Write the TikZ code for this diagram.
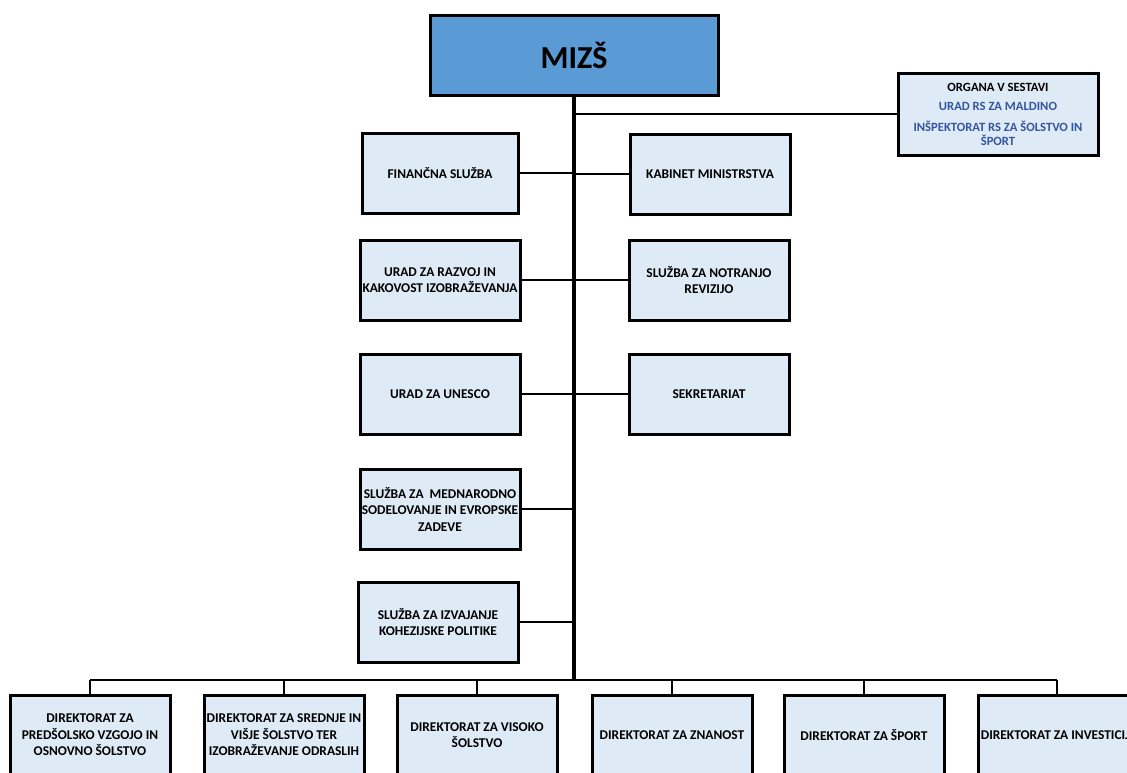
\documentclass[tikz,border=0pt]{standalone}
\usepackage{fontspec}
\setmainfont{Carlito}
\definecolor{boxfill}{RGB}{222,234,246}
\definecolor{topfill}{RGB}{91,155,213}
\definecolor{organblue}{RGB}{52,86,160}
\tikzset{
  unit/.style={draw, line width=3pt, fill=boxfill, align=center,
    minimum width=160pt, minimum height=80pt, inner sep=0.5pt,
    font=\fontsize{13.4}{16.5}\selectfont\bfseries},
  head/.style={unit, fill=topfill, minimum width=288pt,
    font=\fontsize{32}{36}\selectfont\bfseries},
  conn/.style={line width=2.5pt},
  trunk/.style={line width=3.4pt}
}
\begin{document}
\begin{tikzpicture}[x=1pt,y=-1pt]
      \useasboundingbox (0,0) rectangle (1127,772);
      \begin{scope}
        \clip (0,0) rectangle (1127,772);
        \node[head] (mizs) at (574,55) {MIZŠ};
        \node[unit, minimum width=200pt, minimum height=82pt,
          font=\fontsize{12.6}{14}\selectfont\bfseries] (organa) at (998,114)
          {ORGANA V SESTAVI\\[5pt]
           \color{organblue}URAD RS ZA MALDINO\\[7pt]
           \color{organblue}INŠPEKTORAT RS ZA ŠOLSTVO IN\\
           \color{organblue}ŠPORT};
        \node[unit, minimum width=156pt] (fin) at (440,173) {FINANČNA SLUŽBA};
        \node[unit] (kab) at (710,174) {KABINET MINISTRSTVA};
        \node[unit] (razvoj) at (440,280) {URAD ZA RAZVOJ IN\\KAKOVOST IZOBRAŽEVANJA};
        \node[unit] (revizija) at (709,280) {SLUŽBA ZA NOTRANJO\\REVIZIJO};
        \node[unit] (unesco) at (440,394) {URAD ZA UNESCO};
        \node[unit] (sekr) at (709,394) {SEKRETARIAT};
        \node[unit] (mednar) at (440,509) {SLUŽBA ZA \ MEDNARODNO\\SODELOVANJE IN EVROPSKE\\ZADEVE};
        \node[unit] (kohez) at (438,622) {SLUŽBA ZA IZVAJANJE\\KOHEZIJSKE POLITIKE};
        \node[unit] (d1) at (90,735) {DIREKTORAT ZA\\PREDŠOLSKO VZGOJO IN\\OSNOVNO ŠOLSTVO};
        \node[unit] (d2) at (284,735) {DIREKTORAT ZA SREDNJE IN\\VIŠJE ŠOLSTVO TER\\IZOBRAŽEVANJE ODRASLIH};
        \node[unit] (d3) at (477,735) {DIREKTORAT ZA VISOKO\\ŠOLSTVO};
        \node[unit] (d4) at (672,735) {DIREKTORAT ZA ZNANOST};
        \node[unit] (d5) at (864,735) {DIREKTORAT ZA ŠPORT};
        \node[unit, anchor=west] (d6) at (977,735) {DIREKTORAT ZA INVESTICIJE};
      \end{scope}
      \coordinate (bus) at (574,680);
      \coordinate (d6top) at (1057,696);
      \begin{scope}[trunk]
        \draw (mizs.south) to (bus);
      \end{scope}
      \begin{scope}[conn]
        \draw (organa.west) to (organa.west -| mizs.south);
        \draw (fin.east) to (fin.east -| mizs.south);
        \draw (kab.west) to (kab.west -| mizs.south);
        \draw (razvoj.east) to (razvoj.east -| mizs.south);
        \draw (revizija.west) to (revizija.west -| mizs.south);
        \draw (unesco.east) to (unesco.east -| mizs.south);
        \draw (sekr.west) to (sekr.west -| mizs.south);
        \draw (mednar.east) to (mednar.east -| mizs.south);
        \draw (kohez.east) to (kohez.east -| mizs.south);
        \draw (d1.north |- bus) to (d6top |- bus);
        \draw (d1.north) to (d1.north |- bus);
        \draw (d2.north) to (d2.north |- bus);
        \draw (d3.north) to (d3.north |- bus);
        \draw (d4.north) to (d4.north |- bus);
        \draw (d5.north) to (d5.north |- bus);
        \draw (d6top) to (d6top |- bus);
      \end{scope}
    \end{tikzpicture}
\end{document}
